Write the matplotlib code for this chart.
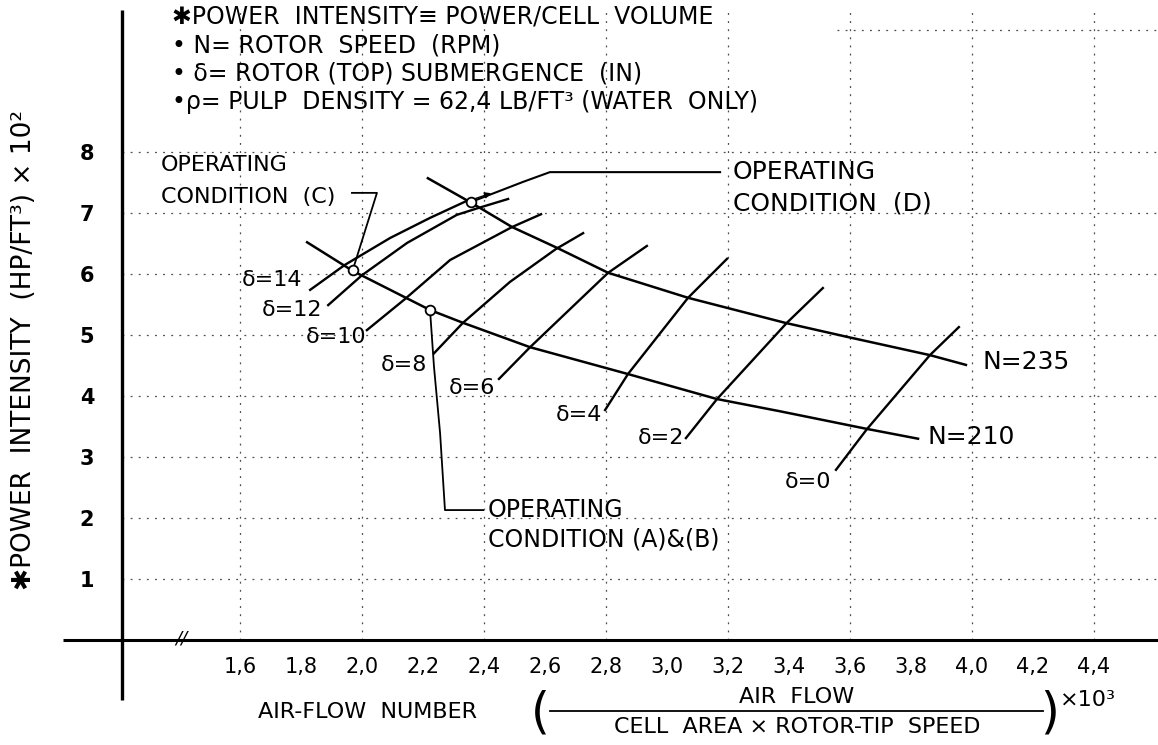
import matplotlib
matplotlib.use("Agg")
import matplotlib.pyplot as plt
from matplotlib.lines import Line2D

plt.rcParams['font.family'] = ['DejaVu Sans']

# rotor speed curves, N (rpm)
n210_x = [1.820, 1.970, 2.223, 2.331, 2.551, 2.872, 3.164, 3.370, 3.656, 3.823]
n210_y = [6.52, 6.05, 5.41, 5.20, 4.80, 4.36, 3.95, 3.75, 3.46, 3.30]
n235_x = [2.216, 2.361, 2.492, 2.639, 2.807, 3.069, 3.387, 3.590, 3.862, 3.980]
n235_y = [7.57, 7.16, 6.77, 6.43, 6.02, 5.61, 5.20, 4.97, 4.67, 4.51]

# rotor (top) submergence lines, delta (in)
delta_values = [14, 12, 10, 8, 6, 4, 2, 0]
delta_x = [
    [1.830, 1.944, 2.092, 2.223, 2.344],
    [1.889, 2.000, 2.148, 2.311, 2.380, 2.479],
    [2.016, 2.141, 2.289, 2.492, 2.587],
    [2.236, 2.331, 2.485, 2.636, 2.725],
    [2.449, 2.551, 2.807, 2.934],
    [2.797, 2.872, 3.069, 3.197],
    [3.062, 3.164, 3.393, 3.511],
    [3.554, 3.656, 3.862, 3.957],
]
delta_y = [
    [5.74, 6.15, 6.59, 6.92, 7.20],
    [5.49, 5.98, 6.51, 6.97, 7.08, 7.23],
    [5.08, 5.59, 6.23, 6.77, 6.98],
    [4.70, 5.20, 5.87, 6.41, 6.67],
    [4.28, 4.80, 6.02, 6.46],
    [3.77, 4.36, 5.61, 6.25],
    [3.31, 3.95, 5.20, 5.77],
    [2.79, 3.46, 4.67, 5.13],
]

# operating conditions (A&B, C, D)
op_x = [2.223, 1.970, 2.357]
op_y = [5.41, 6.07, 7.18]

x_ticks = [1.6, 1.8, 2.0, 2.2, 2.4, 2.6, 2.8, 3.0, 3.2, 3.4, 3.6, 3.8, 4.0, 4.2, 4.4]
x_tick_labels = [f"{v:.1f}".replace(".", ",") for v in x_ticks]
y_ticks = [1, 2, 3, 4, 5, 6, 7, 8]
grid_x = [1.6, 2.0, 2.4, 2.8, 3.2, 3.6, 4.0, 4.4]
grid_y = [1, 2, 3, 4, 5, 6, 7, 8]

W, H = 1158, 745
fig = plt.figure(figsize=(W / 100, H / 100), dpi=100)
fig.patch.set_facecolor("white")


def fp(xp, yp):
    # pixel position -> figure fraction
    return xp / W, 1 - yp / H


ax = fig.add_axes([122 / W, (H - 640) / H, (W - 122) / W, 630 / H])
ax.set_xlim(1.2131, 4.6098)
ax.set_ylim(0, 10.328)
for s in ax.spines.values():
    s.set_visible(False)

# axis lines (crossing, with extensions)
ax.plot([0, 0], [-60 / 630, 1], transform=ax.transAxes, color="black",
        lw=2.4, clip_on=False, solid_capstyle="butt")
ax.plot([-59 / 1036, 1], [0, 0], transform=ax.transAxes, color="black",
        lw=2.2, clip_on=False, solid_capstyle="butt")
ax.text(1.407, 0.02, "//", fontsize=13, style="italic", ha="center",
        va="center", clip_on=False)

# graph paper grid (faint, broken)
dot = (0, (1.5, 5))
for gx in grid_x:
    ax.axvline(gx, color="0.3", lw=0.9, ls=dot, zorder=0)
for gy in grid_y:
    ax.axhline(gy, color="0.3", lw=0.9, ls=dot, zorder=0)
ax.axhline(10, xmin=0.69, color="0.3", lw=0.9, ls=dot, zorder=0)

ax.set_xticks(x_ticks)
ax.set_xticklabels(x_tick_labels, fontsize=15)
ax.set_yticks(y_ticks)
ax.set_yticklabels([str(v) for v in y_ticks], fontsize=15, fontweight="bold")
ax.tick_params(axis="x", length=0, pad=12)
ax.tick_params(axis="y", length=0, pad=20)

# curves
ax.plot(n210_x, n210_y, color="black", lw=1.8, zorder=3)
ax.plot(n235_x, n235_y, color="black", lw=1.8, zorder=3)
for dx, dy in zip(delta_x, delta_y):
    ax.plot(dx, dy, color="black", lw=1.7, zorder=3)
ax.plot(op_x, op_y, "o", ms=7, mfc="white", mec="black", mew=1.3, zorder=5)

# leaders for operating conditions
ax.plot([op_x[1], 2.049, 1.967], [op_y[1], 7.33, 7.33], color="black", lw=1.3)
ax.plot([op_x[0], 2.236, 2.256, 2.272, 2.397], [op_y[0], 4.48, 3.39, 2.13, 2.13],
        color="black", lw=1.3)
ax.plot([op_x[2], 2.528, 2.616, 3.174], [op_y[2], 7.51, 7.67, 7.67],
        color="black", lw=1.5)
ax.annotate("", xy=(2.432, 7.34), xytext=(2.362, 7.22),
            arrowprops=dict(arrowstyle="-|>", color="black", lw=1.0,
                            mutation_scale=9))

# curve labels
fig.text(*fp(982, 362), "N=235", fontsize=18, va="center", ha="left")
fig.text(*fp(928, 437), "N=210", fontsize=18, va="center", ha="left")
delta_label_pos = [(302, 280), (322, 310), (366, 337), (427, 365),
                   (495, 388), (602, 415), (684, 438), (831, 482)]
for d, (xp, yp) in zip(delta_values, delta_label_pos):
    fig.text(*fp(xp, yp), f"δ={d}", fontsize=16, va="center", ha="right")

fig.text(*fp(161, 165), "OPERATING", fontsize=16, va="center")
fig.text(*fp(161, 197), "CONDITION  (C)", fontsize=16, va="center")
fig.text(*fp(733, 172), "OPERATING", fontsize=18, va="center")
fig.text(*fp(733, 203), "CONDITION  (D)", fontsize=18, va="center")
fig.text(*fp(488, 510), "OPERATING", fontsize=17, va="center")
fig.text(*fp(488, 540), "CONDITION (A)&(B)", fontsize=17, va="center")

# header notes
notes = ["✱POWER  INTENSITY≡ POWER/CELL  VOLUME",
         "• N= ROTOR  SPEED  (RPM)",
         "• δ= ROTOR (TOP) SUBMERGENCE  (IN)",
         "•ρ= PULP  DENSITY = 62,4 LB/FT³ (WATER  ONLY)"]
for note, yp in zip(notes, [17, 46, 73, 102]):
    fig.text(*fp(172, yp), note, fontsize=17, va="center", ha="left")

# axis titles
fig.text(*fp(24, 350), "✱POWER  INTENSITY  (HP/FT³) × 10²", fontsize=19,
         rotation=90, ha="center", va="center")
fig.text(*fp(258, 712), "AIR-FLOW  NUMBER", fontsize=16, va="center")
fig.text(*fp(540, 714), "(", fontsize=35, ha="center", va="center")
fig.text(*fp(1050, 714), ")", fontsize=35, ha="center", va="center")
fig.text(*fp(797, 697), "AIR  FLOW", fontsize=16, ha="center", va="center")
fig.text(*fp(797, 727), "CELL  AREA × ROTOR-TIP  SPEED", fontsize=16,
         ha="center", va="center")
fig.add_artist(Line2D([550 / W, 1043 / W], [1 - 711 / H, 1 - 711 / H],
                      transform=fig.transFigure, color="black", lw=1.3))
fig.text(*fp(1060, 700), "×10³", fontsize=16, va="center", ha="left")

fig.savefig("out.png", dpi=100)
